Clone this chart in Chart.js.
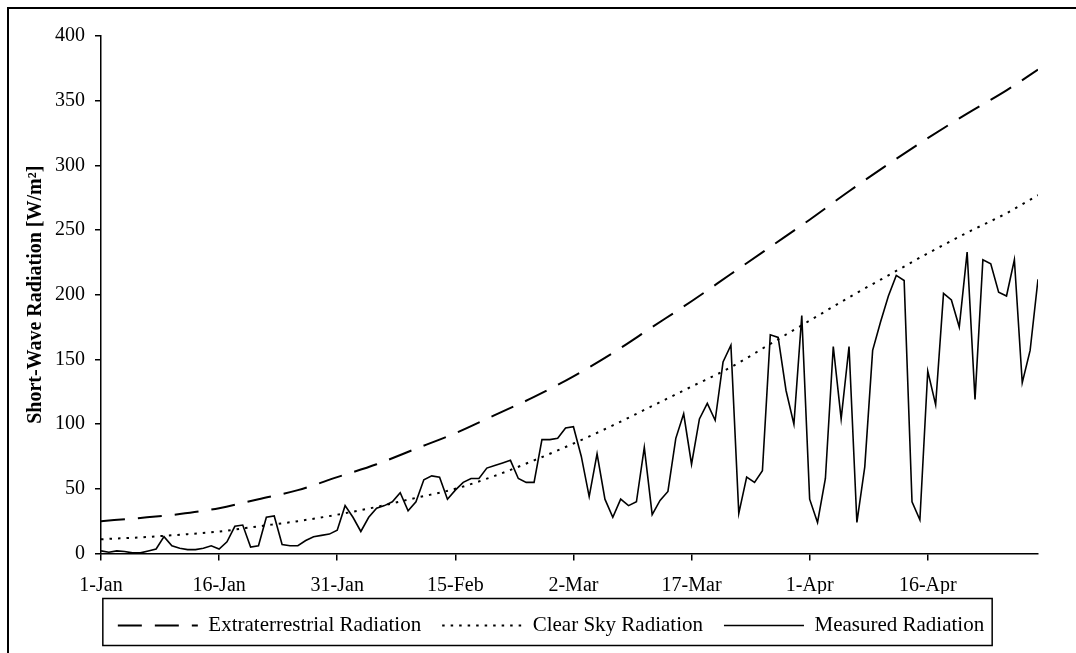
<!DOCTYPE html>
<html lang="en">
<head>
<meta charset="UTF-8">
<title>Short-Wave Radiation</title>
<script src="https://cdn.jsdelivr.net/npm/chart.js"></script>
<style>
  body { margin: 0; background: #fff; overflow: hidden; }
  .frame { position: relative; width: 1076px; height: 653px; }
  .frame:before {
    content: ''; position: absolute; left: 7px; top: 7px; right: -5px; bottom: -5px;
    border-top: 2px solid #000; border-left: 2px solid #000; pointer-events: none;
  }
</style>
</head>
<body>
<div class="frame">
  <canvas id="chart" width="1076" height="653"></canvas>
</div>
<script>
// x axis: day index from 1-Jan, a label every 15 days
const tickLabels = ['1-Jan', '16-Jan', '31-Jan', '15-Feb', '2-Mar', '17-Mar', '1-Apr', '16-Apr'];

// daily measured short-wave radiation, 1-Jan .. 30-Apr [W/m2]
const measured = [
  2, 1, 2, 1.5, 0.5, 0.5, 2, 3.5, 13, 6,
  4, 3, 3, 4, 6, 3.5, 9, 21, 22, 5,
  6, 28, 29, 7, 6, 6, 10, 13, 14, 15,
  18, 37, 28, 17, 28, 35, 37, 40, 47, 33,
  40, 57, 60, 59, 42, 49, 55, 58, 58, 66,
  68, 70, 72, 58, 55, 55, 88, 88, 89, 97,
  98, 75, 44, 77, 42, 28, 42, 37, 40, 82,
  30, 41, 48, 89, 108, 69, 104, 116, 103, 148,
  161, 31, 59, 55, 64, 169, 167, 126, 100, 184,
  42, 24, 58, 160, 104, 160, 24, 67, 157, 179,
  199, 215, 211, 40, 26, 141, 115, 201, 196, 175,
  233, 119, 227, 224, 202, 199, 227, 132, 157, 212
];

// smooth curves read every 5 days
const curveDays = [0, 5, 10, 15, 20, 25, 30, 35, 40, 45, 50, 55, 60, 65, 70, 75, 80, 85, 90, 95, 100, 105, 110, 115, 119];
const extraterrestrial = [25, 27.5, 30.5, 35, 42, 49, 59, 69, 81, 93, 107, 121, 137, 155, 175, 195, 216, 237, 258, 280, 301, 321, 340, 358, 374];
const clearSky = [11, 12.5, 14.5, 17, 21, 25, 30, 36, 43, 50, 60, 72, 85, 99, 114, 129, 144, 162, 180, 198, 215, 232, 248, 263, 277];

const serif = "'Liberation Serif', 'Times New Roman', serif";

// box drawn round the legend, like the spreadsheet original
const legendFrame = {
  id: 'legendFrame',
  afterDraw(chart) {
    const boxes = chart.legend.legendHitBoxes;
    if (!boxes || !boxes.length) return;
    const first = boxes[0], last = boxes[boxes.length - 1];
    const mid = first.top + first.height / 2;
    const left = first.left - 15;
    const right = last.left + last.width + 8;
    const ctx = chart.ctx;
    ctx.save();
    ctx.strokeStyle = '#000';
    ctx.lineWidth = 1.5;
    ctx.strokeRect(left, mid - 27, right - left, 47);
    ctx.restore();
  }
};

new Chart(document.getElementById('chart'), {
  type: 'line',
  data: {
    datasets: [{
      label: 'Extraterrestrial Radiation',
      data: curveDays.map((d, i) => ({ x: d, y: extraterrestrial[i] })),
      borderColor: '#000',
      borderWidth: 2,
      borderDash: [24, 13],
      pointRadius: 0,
      cubicInterpolationMode: 'monotone'
    }, {
      label: 'Clear Sky Radiation',
      data: curveDays.map((d, i) => ({ x: d, y: clearSky[i] })),
      borderColor: '#000',
      borderWidth: 2,
      borderDash: [2.5, 6],
      pointRadius: 0,
      cubicInterpolationMode: 'monotone'
    }, {
      label: 'Measured Radiation',
      data: measured.map((v, i) => ({ x: i, y: v })),
      borderColor: '#000',
      borderWidth: 1.6,
      pointRadius: 0,
      tension: 0
    }]
  },
  options: {
    responsive: false,
    animation: false,
    layout: { padding: { left: 26, right: 0, top: 36, bottom: 7 } },
    plugins: {
      legend: {
        position: 'bottom',
        labels: {
          usePointStyle: true,
          pointStyle: 'line',
          pointStyleWidth: 80,
          padding: 21,
          color: '#000',
          font: { family: serif, size: 21 },
          // point style would drop the dash, so take it from the dataset
          generateLabels: chart => Chart.defaults.plugins.legend.labels.generateLabels(chart).map(item => {
            const ds = chart.data.datasets[item.datasetIndex];
            item.lineDash = ds.borderDash || [];
            item.lineWidth = ds.borderWidth;
            item.strokeStyle = ds.borderColor;
            return item;
          })
        }
      },
      tooltip: { enabled: false }
    },
    scales: {
      x: {
        type: 'linear',
        min: 0,
        max: 119,
        afterBuildTicks: s => { s.ticks = s.ticks.filter(t => t.value % 15 === 0); },
        afterFit: s => { s.height = 40.5; },
        ticks: {
          stepSize: 15,
          autoSkip: false,
          maxRotation: 0,
          padding: 13,
          color: '#000',
          font: { family: serif, size: 20 },
          callback: v => tickLabels[v / 15]
        },
        grid: { drawOnChartArea: false, tickLength: 7, color: '#000', lineWidth: 1.5 },
        border: { color: '#000', width: 1.5 }
      },
      y: {
        min: 0,
        max: 400,
        afterFit: s => { s.width = 75; },
        ticks: {
          stepSize: 50,
          padding: 10,
          color: '#000',
          font: { family: serif, size: 20 }
        },
        grid: { drawOnChartArea: false, tickLength: 6, color: '#000', lineWidth: 1.5 },
        border: { color: '#000', width: 1.5 },
        title: {
          display: true,
          text: 'Short-Wave Radiation [W/m²]',
          color: '#000',
          padding: 0,
          font: { family: serif, size: 20, weight: 'bold', lineHeight: 1 }
        }
      },
      // empty right axis, only keeps the plot clear of the right edge
      yRight: {
        position: 'right',
        grid: { display: false },
        border: { display: false },
        ticks: { display: false },
        afterFit: s => { s.width = 38; }
      }
    }
  },
  plugins: [legendFrame]
});
</script>
</body>
</html>
